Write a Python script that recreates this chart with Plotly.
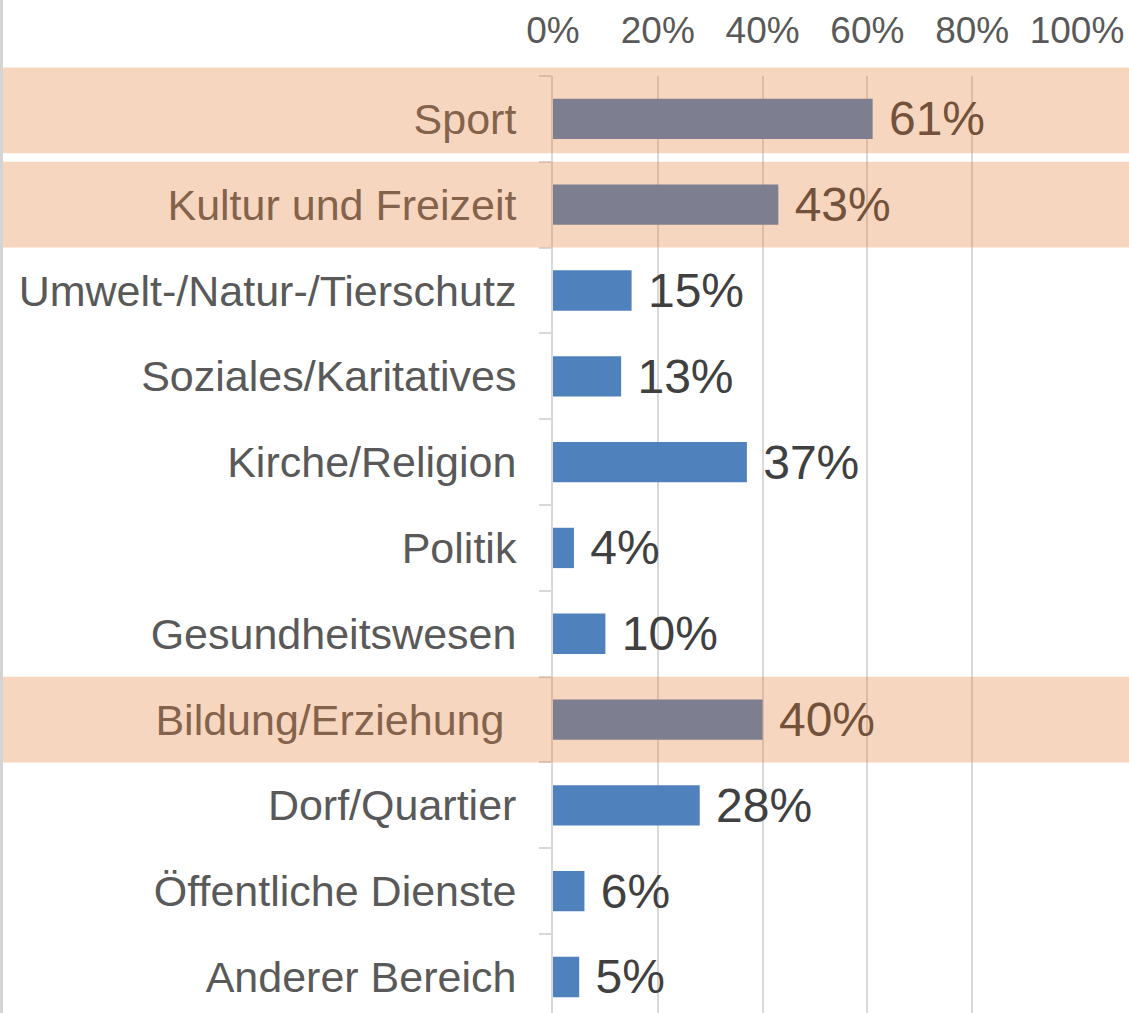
import plotly.graph_objects as go

categories = [
    "Sport", "Kultur und Freizeit", "Umwelt-/Natur-/Tierschutz",
    "Soziales/Karitatives", "Kirche/Religion", "Politik",
    "Gesundheitswesen", "Bildung/Erziehung", "Dorf/Quartier",
    "Öffentliche Dienste", "Anderer Bereich",
]
tick_labels = [
    "Sport", "Kultur und Freizeit", "Umwelt-/Natur-/Tierschutz",
    "Soziales/Karitatives", "Kirche/Religion", "Politik",
    "Gesundheitswesen", "Bildung/Erziehung\u00a0", "Dorf/Quartier",
    "Öffentliche Dienste", "Anderer Bereich",
]
values = [61, 43, 15, 13, 37, 4, 10, 40, 28, 6, 5]
highlighted = ["Sport", "Kultur und Freizeit", "Bildung/Erziehung"]
x_ticks = [0, 20, 40, 60, 80, 100]

W, H = 1129, 1013
ML, MR, MT, MB = 553, 52, 76, 0
FONT = "Liberation Sans, Arial, sans-serif"
n = len(categories)
Y_RANGE = [n - 0.58, -0.5]


def to_domain(v):
    """Convert a category-unit position into a y-domain fraction."""
    return (Y_RANGE[0] - v) / (Y_RANGE[0] - Y_RANGE[1])


fig = go.Figure(
    go.Bar(
        x=values,
        y=categories,
        orientation="h",
        marker=dict(color="#4F81BD", line=dict(width=0)),
        text=[f"\u00a0{v}%" for v in values],
        textposition="outside",
        constraintext="none",
        textfont=dict(family=FONT, size=48, color="#404040"),
        cliponaxis=False,
        hoverinfo="skip",
    )
)

shapes = []
for cat in highlighted:
    i = categories.index(cat)
    top, bottom = i - 0.5, i + 0.5
    if i == 0:
        top, bottom = i - 0.6, i + 0.4
    shapes.append(dict(
        type="rect", xref="paper", yref="y domain",
        x0=-ML / (W - ML - MR) - 0.01, x1=(W - ML) / (W - ML - MR) + 0.01,
        y0=to_domain(bottom), y1=to_domain(top),
        fillcolor="rgba(229,124,48,0.31)", line=dict(width=0), layer="above",
    ))
# thin gray border at the left edge of the image
shapes.append(dict(
    type="line", xref="paper", yref="paper",
    x0=(1.5 - ML) / (W - ML - MR), x1=(1.5 - ML) / (W - ML - MR),
    y0=-0.1, y1=1.2, line=dict(color="#D4D4D4", width=3), layer="above",
))

fig.update_layout(
    width=W, height=H,
    margin=dict(l=ML, r=MR, t=MT, b=MB, pad=0),
    paper_bgcolor="white", plot_bgcolor="white",
    showlegend=False,
    bargap=0.53,
    shapes=shapes,
    xaxis=dict(
        side="top", range=[0, 100], tickvals=x_ticks,
        ticktext=[f"{t}%" for t in x_ticks],
        tickfont=dict(family=FONT, size=37, color="#595959"),
        showgrid=True, gridcolor="#D9D9D9", gridwidth=2,
        zeroline=False, showline=False, ticks="", ticklabelstandoff=25,
        fixedrange=True,
    ),
    yaxis=dict(
        type="category", categoryorder="array", categoryarray=categories,
        tickvals=categories, ticktext=tick_labels,
        range=Y_RANGE,
        tickfont=dict(family=FONT, size=43, color="#595959"),
        showline=True, linecolor="#D9D9D9", linewidth=2,
        ticks="outside", tickson="boundaries", ticklen=12, tickcolor="#D9D9D9",
        tickwidth=2, showgrid=False, ticklabelstandoff=26,
        fixedrange=True,
    ),
)

fig.write_html(
    "out.html",
    config={"displayModeBar": False},
    post_script="document.body.style.margin='0px';document.body.style.overflow='hidden';",
)
